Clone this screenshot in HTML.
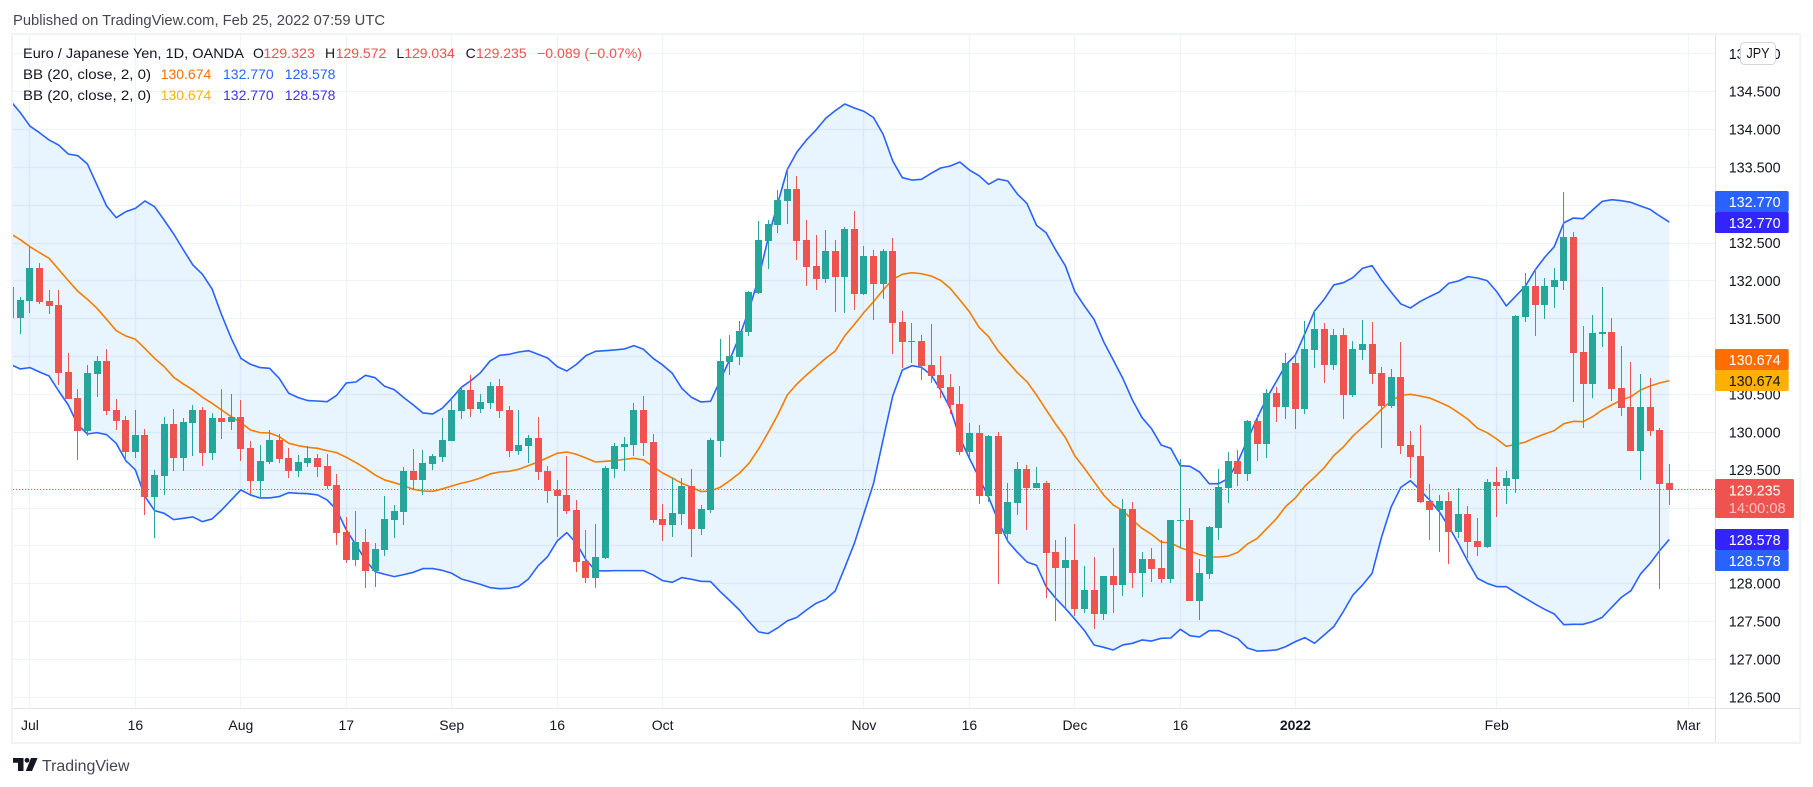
<!DOCTYPE html>
<html lang="en">
<head>
<meta charset="utf-8">
<title>EUR/JPY 1D chart</title>
<style>
html,body{margin:0;padding:0;background:#fff;overflow:hidden}
svg{display:block}
text{font-family:"Liberation Sans",sans-serif}
</style>
</head>
<body>
<svg id="chart" xmlns="http://www.w3.org/2000/svg" width="1813" height="787" viewBox="0 0 1813 787">
  <defs><clipPath id="pane-clip"><rect x="13" y="35" width="1702" height="673.5"/></clipPath></defs>
  <text x="13" y="25" font-size="14.5" fill="#434651" textLength="372" lengthAdjust="spacingAndGlyphs">Published on TradingView.com, Feb 25, 2022 07:59 UTC</text>
  <rect x="12" y="34" width="1788.3" height="709" fill="#fff" stroke="#f0f3fa" stroke-width="2"/>
  <g id="grid"></g>
  <g clip-path="url(#pane-clip)">
    <g id="bands"></g>
    <g id="candles"></g>
  </g>
  <line x1="1715.5" y1="35" x2="1715.5" y2="742.5" stroke="#e0e3eb" stroke-width="1"/>
  <line x1="13" y1="708.5" x2="1800" y2="708.5" stroke="#e0e3eb" stroke-width="1"/>
  <g id="price-axis"></g>
  <g id="time-axis"></g>

  <g>
    <rect x="1740.5" y="42.5" width="35" height="22" rx="4" fill="#fff" stroke="#d1d4dc"/>
    <text x="1758" y="58" font-size="14.5" fill="#131722" text-anchor="middle" textLength="23" lengthAdjust="spacingAndGlyphs">JPY</text>
  </g>

  <g font-size="14">
    <text x="23" y="58" fill="#131722" textLength="221" lengthAdjust="spacingAndGlyphs">Euro / Japanese Yen, 1D, OANDA</text>
    <text y="58"><tspan x="253" fill="#131722">O</tspan><tspan x="263.4" fill="#ef5350" textLength="51.5" lengthAdjust="spacingAndGlyphs">129.323</tspan></text>
    <text y="58"><tspan x="325" fill="#131722">H</tspan><tspan x="335.7" fill="#ef5350">129.572</tspan></text>
    <text y="58"><tspan x="396.4" fill="#131722">L</tspan><tspan x="404.2" fill="#ef5350">129.034</tspan></text>
    <text y="58"><tspan x="465.6" fill="#131722">C</tspan><tspan x="476" fill="#ef5350">129.235</tspan></text>
    <text x="537" y="58" fill="#ef5350" textLength="105" lengthAdjust="spacingAndGlyphs">−0.089 (−0.07%)</text>

    <text x="23" y="79" fill="#131722" textLength="128" lengthAdjust="spacingAndGlyphs">BB (20, close, 2, 0)</text>
    <text x="160.7" y="79" fill="#ff6d00">130.674</text>
    <text x="223" y="79" fill="#2962ff">132.770</text>
    <text x="284.8" y="79" fill="#2962ff">128.578</text>

    <text x="23" y="100" fill="#131722" textLength="128" lengthAdjust="spacingAndGlyphs">BB (20, close, 2, 0)</text>
    <text x="160.7" y="100" fill="#ffb000">130.674</text>
    <text x="223" y="100" fill="#3d33ff">132.770</text>
    <text x="284.8" y="100" fill="#3d33ff">128.578</text>
  </g>

  <g font-size="15">
    <g><rect x="1715" y="191" width="73.7" height="21" rx="1.5" fill="#2962ff"/><text x="1728.7" y="207" fill="#fff" textLength="52" lengthAdjust="spacingAndGlyphs">132.770</text></g>
    <g><rect x="1715" y="212" width="73.7" height="21" rx="1.5" fill="#3124ff"/><text x="1728.7" y="228" fill="#fff" textLength="52" lengthAdjust="spacingAndGlyphs">132.770</text></g>
    <g><rect x="1715" y="349" width="73.7" height="21" rx="1.5" fill="#ff6d00"/><text x="1728.7" y="365" fill="#fff" textLength="52" lengthAdjust="spacingAndGlyphs">130.674</text></g>
    <g><rect x="1715" y="370" width="73.7" height="21" rx="1.5" fill="#ffb000"/><text x="1728.7" y="386" fill="#131722" textLength="52" lengthAdjust="spacingAndGlyphs">130.674</text></g>
    <g><rect x="1715" y="479" width="79" height="39" rx="1.5" fill="#ef5350"/><text x="1728.7" y="495.5" fill="#fff" textLength="52" lengthAdjust="spacingAndGlyphs">129.235</text><text x="1728.7" y="513" fill="#fff" fill-opacity="0.65" textLength="57" lengthAdjust="spacingAndGlyphs">14:00:08</text></g>
    <g><rect x="1715" y="529" width="73.7" height="21" rx="1.5" fill="#3124ff"/><text x="1728.7" y="545" fill="#fff" textLength="52" lengthAdjust="spacingAndGlyphs">128.578</text></g>
    <g><rect x="1715" y="550" width="73.7" height="21" rx="1.5" fill="#2962ff"/><text x="1728.7" y="566" fill="#fff" textLength="52" lengthAdjust="spacingAndGlyphs">128.578</text></g>
  </g>

  <g>
    <g fill="#131722">
      <path d="M13 758H23.5V771H18V762.8H13Z"/>
      <circle cx="27" cy="760.3" r="2.4"/>
      <path d="M31 758H37.6L32 771H25.8Z"/>
    </g>
    <text x="42" y="771" font-size="15.5" fill="#434651" textLength="87.5" lengthAdjust="spacingAndGlyphs">TradingView</text>
  </g>
</svg>
<script>
const opens = [131.917,131.504,131.728,132.164,131.728,131.675,130.790,130.447,130.011,130.764,130.936,130.288,130.156,129.734,129.958,129.139,129.417,130.103,129.654,130.117,130.288,129.720,130.183,130.130,130.196,129.786,129.350,129.601,129.892,129.654,129.483,129.588,129.654,129.549,129.298,128.677,128.307,128.545,128.162,128.439,128.835,128.941,129.483,129.364,129.575,129.667,129.879,130.275,130.552,130.301,130.381,130.605,130.288,129.747,129.813,129.918,129.483,129.232,129.166,128.967,128.294,128.069,128.333,129.509,129.800,129.826,130.288,129.866,128.849,128.769,128.915,129.284,128.716,128.967,129.879,130.922,130.988,131.318,131.833,132.520,132.731,133.048,133.207,132.533,132.190,132.018,132.388,132.044,132.678,131.820,132.322,131.952,132.388,131.450,131.186,131.199,130.882,130.750,130.591,130.367,129.733,129.984,129.152,129.944,128.650,129.059,129.508,129.257,129.323,128.412,128.201,128.306,127.659,127.910,127.593,128.095,127.976,128.980,128.135,128.320,128.201,128.055,128.821,128.835,127.765,128.121,128.729,129.257,129.614,129.442,130.142,129.839,130.512,130.327,130.909,130.301,131.080,131.358,130.882,131.278,130.486,131.080,131.160,130.776,130.341,130.724,129.825,129.680,129.086,128.967,129.086,128.676,128.914,128.557,128.478,129.337,129.284,129.376,131.516,131.926,131.675,131.913,131.992,132.573,131.054,130.631,131.292,131.318,130.579,130.327,129.746,130.327,130.023,129.323];
const highs = [131.917,131.781,132.446,132.230,131.873,131.873,131.041,130.566,130.883,131.002,131.094,130.434,130.209,130.288,130.037,129.496,130.196,130.302,130.183,130.354,130.328,130.249,130.566,130.500,130.420,129.879,129.826,130.024,129.971,129.786,129.694,129.813,129.707,129.707,129.443,128.875,128.954,128.717,128.531,129.152,129.033,129.535,129.773,129.760,129.707,130.183,130.460,130.592,130.751,130.500,130.658,130.698,130.341,130.288,129.958,130.196,129.549,129.364,129.681,129.099,128.703,128.782,129.549,129.852,129.932,130.381,130.473,129.971,129.047,129.390,129.390,129.509,129.033,129.918,131.226,131.278,131.463,131.860,132.784,132.797,133.194,133.480,133.379,132.797,132.599,132.665,132.533,132.705,132.916,132.454,132.401,132.414,132.560,131.595,131.437,131.278,131.423,131.001,130.763,130.605,130.116,130.090,129.957,129.997,129.323,129.601,129.561,129.535,129.350,128.571,128.610,128.782,128.227,128.346,128.095,128.465,129.112,129.072,128.412,128.465,128.571,128.835,129.640,128.993,128.320,128.755,129.508,129.733,129.759,130.156,130.222,130.565,130.592,131.041,131.014,131.463,131.595,131.437,131.358,131.371,131.199,131.477,131.450,130.856,130.829,131.186,130.017,130.090,129.310,129.165,129.204,129.257,129.019,128.861,129.376,129.535,129.482,131.543,132.098,132.150,132.032,132.164,133.168,132.639,131.398,131.543,131.913,131.503,131.133,130.922,130.763,130.711,130.050,129.572];
const lows = [131.499,131.292,131.570,131.689,131.556,130.619,130.434,129.628,129.945,130.460,130.222,130.024,129.628,129.654,128.901,128.598,129.166,129.483,129.483,129.681,129.549,129.628,129.905,130.024,129.615,129.179,129.126,129.575,129.588,129.390,129.403,129.535,129.403,129.245,128.505,128.267,128.228,127.937,127.950,128.360,128.598,128.769,129.232,129.166,129.496,129.601,129.879,130.169,130.196,130.249,130.301,130.183,129.667,129.694,129.588,129.364,129.060,128.611,128.915,128.148,128.003,127.937,128.320,129.390,129.483,129.681,129.681,128.796,128.558,128.611,128.769,128.347,128.637,128.928,129.667,130.750,130.882,131.265,131.820,132.150,132.626,132.745,132.269,131.926,131.873,131.965,131.582,131.569,131.609,131.807,131.477,131.754,131.027,130.842,130.908,130.684,130.644,130.446,130.235,129.693,129.667,129.046,129.072,127.989,128.544,128.901,128.703,129.257,127.804,127.501,127.646,127.567,127.606,127.395,127.514,127.606,127.831,127.937,127.818,128.016,128.002,128.002,128.465,127.765,127.514,128.055,128.571,129.059,129.284,129.350,129.614,129.654,130.129,130.169,130.037,130.235,130.842,130.644,130.816,130.169,130.459,130.948,130.631,129.786,130.314,129.707,129.389,129.059,128.570,128.412,128.253,128.597,128.333,128.359,128.465,128.874,129.046,129.191,131.450,131.265,131.490,131.635,131.873,130.393,130.050,130.447,131.120,130.406,130.208,129.746,129.363,129.944,127.923,129.034];
const closes = [131.499,131.741,132.164,131.715,131.662,130.777,130.434,130.011,130.777,130.936,130.275,130.143,129.734,129.958,129.139,129.430,130.103,129.654,130.130,130.288,129.720,130.183,130.130,130.196,129.773,129.350,129.615,129.892,129.641,129.483,129.601,129.654,129.535,129.284,128.664,128.307,128.545,128.162,128.452,128.849,128.954,129.483,129.364,129.588,129.681,129.892,130.288,130.552,130.301,130.394,130.605,130.275,129.747,129.826,129.918,129.469,129.218,129.152,128.954,128.280,128.069,128.347,129.522,129.813,129.839,130.288,129.852,128.835,128.769,128.928,129.284,128.716,128.981,129.892,130.936,131.001,131.331,131.846,132.533,132.745,133.062,133.207,132.520,132.177,132.018,132.388,132.044,132.678,131.820,132.322,131.952,132.388,131.437,131.186,131.199,130.869,130.737,130.578,130.354,129.733,129.984,129.152,129.944,128.650,129.072,129.508,129.257,129.323,128.399,128.201,128.306,127.659,127.910,127.593,128.095,127.976,128.980,128.135,128.320,128.188,128.055,128.835,128.835,127.765,128.135,128.742,129.271,129.614,129.442,130.142,129.839,130.512,130.327,130.909,130.301,131.093,131.358,130.882,131.278,130.486,131.093,131.160,130.763,130.341,130.724,129.812,129.667,129.072,128.967,129.086,128.676,128.914,128.544,128.478,129.337,129.284,129.389,131.529,131.926,131.675,131.926,132.005,132.573,131.041,130.631,131.305,131.318,130.565,130.314,129.746,130.327,130.010,129.310,129.235];
const upperBand = [134.365,134.216,134.039,133.951,133.855,133.788,133.670,133.648,133.538,133.260,132.983,132.829,132.908,132.952,133.049,132.974,132.798,132.613,132.405,132.204,132.080,131.887,131.543,131.235,130.971,130.892,130.848,130.839,130.707,130.509,130.451,130.412,130.407,130.398,130.482,130.645,130.658,130.746,130.715,130.601,130.557,130.451,130.354,130.249,130.236,130.310,130.442,130.588,130.676,130.781,130.936,131.010,131.024,131.054,131.072,131.024,130.975,130.861,130.803,130.891,131.006,131.063,131.072,131.081,131.094,131.138,131.090,130.971,130.883,130.773,130.574,130.456,130.394,130.403,130.680,130.955,131.257,131.609,132.027,132.555,133.017,133.465,133.695,133.855,133.987,134.141,134.242,134.330,134.277,134.233,134.150,133.929,133.577,133.357,133.326,133.335,133.414,133.485,133.511,133.564,133.458,133.383,133.269,133.339,133.313,133.141,133.017,132.727,132.630,132.401,132.194,131.851,131.661,131.485,131.190,130.948,130.706,130.420,130.188,130.040,129.825,129.781,129.552,129.544,129.469,129.315,129.315,129.385,129.605,129.891,130.178,130.442,130.663,130.883,131.015,131.301,131.596,131.750,131.940,131.970,132.037,132.160,132.195,132.006,131.843,131.689,131.636,131.720,131.786,131.847,131.962,131.992,132.050,132.032,131.997,131.852,131.662,131.794,131.926,132.137,132.304,132.445,132.762,132.824,132.815,132.930,133.044,133.066,133.053,133.031,132.983,132.938,132.851,132.770];
const middleBand = [132.613,132.538,132.446,132.367,132.292,132.146,131.997,131.856,131.750,131.631,131.486,131.336,131.266,131.222,131.099,130.971,130.861,130.720,130.632,130.553,130.456,130.376,130.288,130.200,130.121,130.024,129.989,129.984,129.936,129.848,129.817,129.795,129.782,129.751,129.725,129.663,129.593,129.518,129.430,129.364,129.328,129.289,129.240,129.218,129.214,129.245,129.284,129.320,129.350,129.390,129.443,129.469,129.478,129.505,129.553,129.601,129.659,129.716,129.733,129.703,129.654,129.601,129.610,129.619,129.637,129.650,129.628,129.540,129.456,129.390,129.320,129.267,129.210,129.218,129.267,129.355,129.452,129.584,129.770,129.990,130.222,130.486,130.631,130.750,130.860,130.970,131.067,131.269,131.419,131.578,131.719,131.873,132.014,132.080,132.102,132.088,132.058,132.000,131.895,131.741,131.586,131.380,131.256,131.067,130.926,130.781,130.662,130.486,130.290,130.100,129.926,129.680,129.517,129.341,129.165,129.033,128.958,128.835,128.725,128.645,128.544,128.531,128.469,128.425,128.377,128.346,128.346,128.359,128.408,128.518,128.590,128.720,128.850,129.015,129.125,129.284,129.400,129.525,129.685,129.799,129.944,130.059,130.173,130.297,130.411,130.481,130.495,130.473,130.446,130.393,130.336,130.253,130.164,130.046,129.988,129.905,129.808,129.834,129.865,129.922,129.971,130.015,130.107,130.138,130.134,130.200,130.288,130.354,130.420,130.464,130.552,130.605,130.645,130.674];
const lowerBand = [130.887,130.830,130.848,130.790,130.737,130.539,130.354,130.090,129.971,129.989,129.962,129.848,129.619,129.496,129.144,128.959,128.923,128.840,128.857,128.875,128.813,128.849,128.967,129.100,129.232,129.166,129.126,129.126,129.144,129.196,129.188,129.183,129.166,129.100,128.967,128.703,128.505,128.307,128.153,128.118,128.087,128.113,128.144,128.193,128.193,128.170,128.131,128.056,128.021,127.985,127.941,127.928,127.933,127.959,128.056,128.228,128.351,128.558,128.668,128.527,128.307,128.166,128.162,128.166,128.166,128.166,128.166,128.109,128.034,128.012,128.074,128.052,128.025,128.021,127.889,127.770,127.646,127.493,127.357,127.334,127.410,127.502,127.548,127.646,127.734,127.787,127.897,128.206,128.527,128.923,129.319,129.900,130.473,130.816,130.873,130.851,130.750,130.552,130.310,129.920,129.649,129.394,129.134,128.826,128.553,128.408,128.280,128.236,127.954,127.800,127.668,127.523,127.373,127.184,127.153,127.118,127.184,127.206,127.250,127.236,127.272,127.276,127.391,127.307,127.289,127.373,127.373,127.320,127.267,127.144,127.104,127.109,127.118,127.162,127.228,127.281,127.206,127.316,127.426,127.624,127.844,127.976,128.130,128.614,129.011,129.266,129.354,129.231,129.099,128.945,128.747,128.526,128.284,128.064,127.998,127.954,127.954,127.875,127.800,127.725,127.655,127.593,127.452,127.457,127.457,127.492,127.549,127.681,127.813,127.901,128.122,128.262,128.430,128.578];
const priceTicks = [135,134.5,134,133.5,133,132.5,132,131.5,131,130.5,130,129.5,129,128.5,128,127.5,127,126.5];
const timeLabels = ["Jul","16","Aug","17","Sep","16","Oct","Nov","16","Dec","16","2022","Feb","Mar"];
const timeLabelBars = [2,13,24,35,46,57,68,89,100,111,122,134,155,175];

const NS = 'http://www.w3.org/2000/svg';
const xScale = i => 10.743 + i * 9.587;
const yScale = p => 431.8 + (130 - p) * 75.7;
const snap = v => Math.round(v);
const bullColor = '#26a69a', bearColor = '#ef5350';

function make(tag, attrs, parent) {
  const el = document.createElementNS(NS, tag);
  for (const k in attrs) el.setAttribute(k, attrs[k]);
  parent.appendChild(el);
  return el;
}
const gridG = document.getElementById('grid');
const bandsG = document.getElementById('bands');
const candlesG = document.getElementById('candles');
const priceG = document.getElementById('price-axis');
const timeG = document.getElementById('time-axis');

priceTicks.forEach(p => {
  const y = snap(yScale(p)) + 0.5;
  const line = make('line', {x1: 13, x2: 1715, y1: y, y2: y, stroke: '#f0f3fa', 'stroke-width': 1.3}, gridG);
  
  
  const t = make('text', {x: 1728.7, y: yScale(p) + 5.5, 'font-size': 15, fill: '#131722', textLength: 52, lengthAdjust: 'spacingAndGlyphs'}, priceG);
  t.textContent = p.toFixed(3);
  
  
});

timeLabels.forEach((label, k) => {
  const x = xScale(timeLabelBars[k]);
  const line = make('line', {x1: snap(x - 0.5) + 0.5, x2: snap(x - 0.5) + 0.5, y1: 35, y2: 708, stroke: '#f0f3fa', 'stroke-width': 1.3}, gridG);
  
  
  const t = make('text', {x: x, y: 730, 'font-size': 14, fill: '#131722', 'text-anchor': 'middle'}, timeG);
  if (label === '2022') t.setAttribute('font-weight', 'bold');
  t.textContent = label;
  
  
});

const lastY = snap(yScale(closes[closes.length - 1])) - 0.5;
const lastLine = make('line', {x1: 13, x2: 1715, y1: lastY, y2: lastY, stroke: '#ef5350', 'stroke-width': 1, 'stroke-dasharray': '1.2 1.8'}, gridG);



const pathOf = arr => arr.map((v, i) => (i ? 'L' : 'M') + xScale(i).toFixed(2) + ' ' + yScale(v).toFixed(2)).join('');
const fillD = pathOf(upperBand) + lowerBand.map((v, i) => i).reverse().map(i => 'L' + xScale(i).toFixed(2) + ' ' + yScale(lowerBand[i]).toFixed(2)).join('') + 'Z';
const fill = make('path', {d: fillD, fill: '#2196f3', 'fill-opacity': 0.1}, bandsG);



const midLine = make('path', {d: pathOf(middleBand), fill: 'none', stroke: '#f57c00', 'stroke-width': 1.6, 'stroke-linejoin': 'round'}, bandsG);



const upLine = make('path', {d: pathOf(upperBand), fill: 'none', stroke: '#2962ff', 'stroke-width': 1.6, 'stroke-linejoin': 'round'}, bandsG);



const lowLine = make('path', {d: pathOf(lowerBand), fill: 'none', stroke: '#2962ff', 'stroke-width': 1.6, 'stroke-linejoin': 'round'}, bandsG);



opens.forEach((o, i) => {
  const c = closes[i];
  const color = c >= o ? bullColor : bearColor;
  const wx = snap(xScale(i) - 0.5);
  const hy = snap(yScale(highs[i])), ly = snap(yScale(lows[i]));
  const ty = snap(yScale(Math.max(o, c))), by = snap(yScale(Math.min(o, c)));
  const wick = make('rect', {x: wx, y: hy, width: 1, height: Math.max(1, ly - hy), fill: color}, candlesG);
  
  
  const body = make('rect', {x: wx - 3, y: ty, width: 7, height: Math.max(1, by - ty), fill: color}, candlesG);
  
  
});
</script>
</body>
</html>
